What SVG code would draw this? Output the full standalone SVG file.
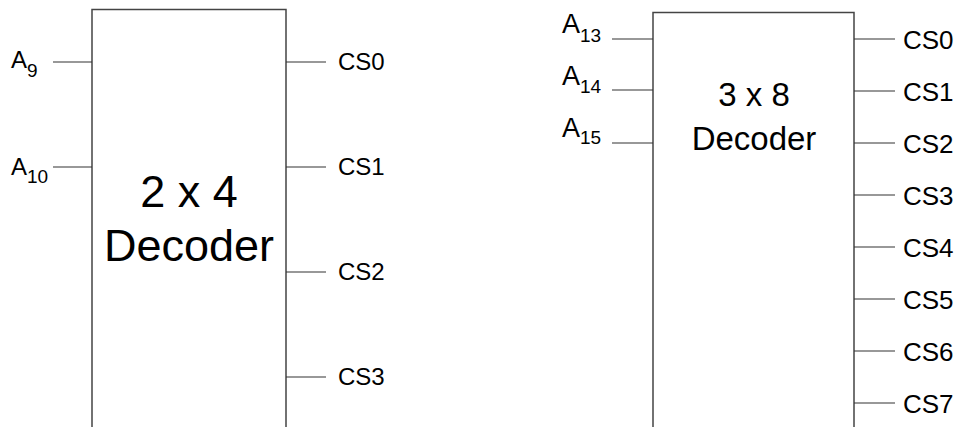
<svg xmlns="http://www.w3.org/2000/svg" width="964" height="427" viewBox="0 0 964 427">
<style>
.box{fill:#fff;stroke:#444;stroke-width:1.5}
.w{stroke:#333;stroke-width:1.2;fill:none}
text{font-family:"Liberation Sans",Arial,sans-serif;fill:#000}
.lbl{font-size:24px}
.rl{font-size:26px}
.ra{font-size:27px}
.sub{font-size:19px}
.big{font-size:45px;text-anchor:middle}
.mid{font-size:33px;text-anchor:middle}
</style>
<g id="decoder-2x4">
<path class="box" d="M92,430 V9.5 H286 V430"/>
<text class="big" x="189" y="207">2 x 4</text>
<text class="big" x="189" y="261">Decoder</text>
</g>
<g id="decoder-3x8">
<path class="box" d="M653,430 V12.5 H854 V430"/>
<text class="mid" x="754" y="106">3 x 8</text>
<text class="mid" x="754" y="150">Decoder</text>
</g>
<g id="labels-left">
<text class="lbl" x="11" y="68">A<tspan class="sub" dy="9">9</tspan></text>
<text class="lbl" x="11" y="175">A<tspan class="sub" dy="8">10</tspan></text>
<text class="lbl" x="338" y="70">CS0</text>
<text class="lbl" x="338" y="175">CS1</text>
<text class="lbl" x="338" y="280">CS2</text>
<text class="lbl" x="338" y="385">CS3</text>
</g>
<g id="labels-right">
<text class="ra" x="562" y="33">A<tspan class="sub" dy="9">13</tspan></text>
<text class="ra" x="562" y="85">A<tspan class="sub" dy="8">14</tspan></text>
<text class="ra" x="562" y="137">A<tspan class="sub" dy="7">15</tspan></text>
<text class="rl" x="903" y="49">CS0</text>
<text class="rl" x="903" y="101">CS1</text>
<text class="rl" x="903" y="153">CS2</text>
<text class="rl" x="903" y="205">CS3</text>
<text class="rl" x="903" y="257">CS4</text>
<text class="rl" x="903" y="309">CS5</text>
<text class="rl" x="903" y="361">CS6</text>
<text class="rl" x="903" y="413">CS7</text>
</g>
<g id="connectors">
<path class="w" d="M53,62 H92 M53,167 H92 M286,62 H326 M286,167 H326 M286,272 H326 M286,377 H326"/>
<path class="w" d="M612,39 H653 M612,90 H653 M612,143 H653"/>
<path class="w" d="M854,39 H895 M854,91 H895 M854,143 H895 M854,195 H895 M854,247 H895 M854,299 H895 M854,351 H895 M854,403 H895"/>
</g>
</svg>
